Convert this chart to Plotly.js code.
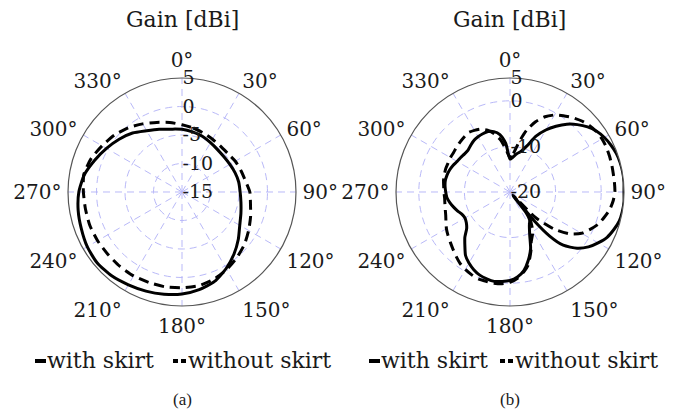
<!DOCTYPE html>
<html>
<head>
<meta charset="utf-8">
<script src="https://cdn.plot.ly/plotly-3.0.1.min.js"></script>
<style>
  html, body { margin: 0; padding: 0; background: #fff; }
  #chart { width: 678px; height: 411px; }
</style>
</head>
<body>
<div id="chart"></div>
<script>
// Azimuth angles (degrees, clockwise from 0° at top)
const thetaA = [0, 10, 20, 30, 40, 50, 60, 70, 80, 90, 100, 110, 120, 130, 140, 150, 160, 170,
  180, 190, 200, 210, 220, 230, 240, 250, 260, 270, 280, 290, 300, 310, 320, 330, 340, 350, 360];

// (a) gain in dBi
const gainAWithSkirt = [-4.0, -4.3, -4.6, -5.0, -5.3, -5.4, -5.3, -5.1, -4.9, -4.8, -4.5, -4.0, -3.3,
  -2.1, -0.8, 0.5, 1.7, 2.4, 2.9, 3.2, 3.5, 3.8, 4.2, 4.4, 4.2, 3.8, 3.5, 3.1, 2.4, 1.3, 0.3, -0.6,
  -1.5, -2.6, -3.3, -3.8, -4.0];
const gainAWithoutSkirt = [-3.2, -3.6, -4.0, -4.3, -4.5, -4.5, -4.2, -4.0, -3.7, -3.1, -2.8, -2.2,
  -1.5, -0.7, 0.0, 0.7, 1.3, 1.7, 1.8, 1.9, 1.9, 2.0, 2.0, 2.0, 2.1, 2.2, 2.2, 2.3, 2.5, 2.0, 1.2,
  0.5, -0.3, -1.2, -2.0, -2.6, -3.2];

// (b) gain in dBi
const thetaBWithSkirt = [0, 5, 10, 15, 20, 25, 30, 35, 40, 45, 50, 55, 60, 65, 70, 75, 80, 85, 90,
  95, 100, 105, 110, 115, 120, 125, 130, 135, 138, 140, 141, 142, 145, 150, 155, 160, 165, 170, 175,
  180, 185, 190, 195, 200, 205, 210, 215, 220, 225, 230, 235, 240, 245, 250, 255, 260, 265, 270, 275,
  280, 285, 290, 295, 300, 305, 310, 315, 320, 325, 330, 335, 340, 345, 350, 355, 360];
const gainBWithSkirt = [-12.8, -12.3, -11.5, -10.8, -9.3, -6.5, -4.3, -2.4, -0.6, 0.9, 2.2, 3.2, 3.9,
  4.4, 4.8, 5.0, 5.1, 5.1, 5.0, 5.1, 5.0, 4.8, 4.2, 3.5, 2.3, 1.0, -0.8, -3.5, -7.0, -12.0, -19.0,
  -14.5, -12.5, -11.5, -9.8, -6.8, -4.5, -2.5, -1.3, -0.6, -0.3, -0.1, -0.3, -0.6, -1.2, -2.0, -3.0,
  -4.6, -6.0, -7.6, -8.3, -8.6, -8.4, -7.8, -7.2, -6.6, -6.1, -5.9, -5.7, -5.6, -5.7, -5.9, -6.2,
  -6.6, -6.8, -7.0, -7.0, -6.6, -6.2, -6.0, -5.9, -5.9, -6.3, -7.2, -9.3, -12.8];

const thetaBWithoutSkirt = [0, 5, 10, 15, 20, 25, 30, 35, 40, 45, 50, 55, 60, 65, 70, 75, 80, 85, 90,
  95, 100, 105, 110, 115, 120, 125, 130, 135, 138, 140, 143, 150, 157, 160, 166, 170, 175, 180, 185,
  190, 195, 200, 205, 210, 215, 220, 225, 230, 235, 240, 245, 250, 255, 260, 265, 270, 275, 280, 285,
  290, 295, 300, 305, 310, 315, 320, 325, 330, 335, 340, 345, 350, 355, 360];
const gainBWithoutSkirt = [-12.5, -11.5, -9.0, -6.0, -3.6, -1.8, -0.5, 0.4, 1.3, 2.1, 2.7, 3.1, 3.3,
  3.3, 3.2, 3.1, 3.0, 3.0, 3.0, 2.7, 2.2, 1.4, 0.6, -0.6, -1.9, -4.0, -7.3, -12.0, -19.0, -15.0,
  -12.8, -10.0, -8.1, -6.5, -3.5, -2.3, -1.0, -0.2, 0.2, 0.3, 0.3, 0.3, 0.0, -0.4, -0.9, -1.6, -2.3,
  -2.9, -3.4, -3.9, -4.5, -5.0, -5.3, -5.5, -5.6, -5.5, -5.4, -5.2, -5.1, -5.0, -5.0, -4.9, -4.9,
  -4.7, -4.5, -4.3, -4.1, -4.4, -4.8, -5.6, -6.8, -8.5, -10.8, -12.5];

// Angular tick marks and radial tick labels
const angleTicks = [0, 30, 60, 90, 120, 150, 180, 210, 240, 270, 300, 330];
const radialTicksA = [-15, -10, -5, 0, 5];
const radialTicksB = [-20, -10, 0, 5];
const seriesNames = ['with skirt', 'without skirt'];
const panelTitle = 'Gain [dBi]';
const panelCaptions = ['(a)', '(b)'];

const SERIF = 'DejaVu Serif, serif';
const CAPTION = 'Liberation Serif, Times New Roman, serif';
const INK = '#1a1a1a';
const GRID = 'rgb(185,185,248)';

function lineTrace(theta, r, subplot, dash, name) {
  return {
    type: 'scatterpolar', mode: 'lines', theta: theta, r: r, subplot: subplot, name: name,
    line: { color: '#000', width: 3, dash: dash, shape: 'spline', smoothing: 0.6 },
    showlegend: false, hoverinfo: 'skip'
  };
}

const data = [
  lineTrace(thetaA, gainAWithSkirt, 'polar', 'solid', seriesNames[0]),
  lineTrace(thetaA, gainAWithoutSkirt, 'polar', '10px,6px', seriesNames[1]),
  lineTrace(thetaBWithSkirt, gainBWithSkirt, 'polar2', 'solid', seriesNames[0]),
  lineTrace(thetaBWithoutSkirt, gainBWithoutSkirt, 'polar2', '10px,6px', seriesNames[1])
];

function polarLayout(xDomain, range, ticks) {
  return {
    domain: { x: xDomain, y: [0.2555, 0.8102] },
    bgcolor: 'rgba(0,0,0,0)',
    angularaxis: {
      rotation: 90, direction: 'clockwise',
      tickmode: 'array', tickvals: angleTicks, ticktext: angleTicks.map(a => a + '°'),
      tickfont: { family: SERIF, size: 20, color: INK },
      ticks: 'outside', ticklen: 2, tickcolor: 'rgba(0,0,0,0)',
      showline: true, linecolor: '#555', linewidth: 1.2,
      showgrid: true, gridcolor: GRID, gridwidth: 1, griddash: '7px,5px'
    },
    radialaxis: {
      range: range, angle: 90, side: 'clockwise', tickangle: 90,
      tickmode: 'array', tickvals: ticks, ticktext: ticks.map(String),
      tickfont: { family: SERIF, size: 19, color: INK },
      ticks: '', showline: false,
      showgrid: true, gridcolor: GRID, gridwidth: 1, griddash: '7px,5px'
    }
  };
}

// Panel centres and legend-row anchor points (pixels)
const centersX = [182, 510];
const legendStart = [35, 369];
const legendDashStart = [173, 500];
const annotations = [];
const shapes = [];
const legendY = 361;
const captionY = 399;
const px = x => x / 678;
const py = y => 1 - y / 411;

centersX.forEach((cx, i) => {
  annotations.push({
    xref: 'paper', yref: 'paper', x: px(cx), y: py(19), xanchor: 'center', yanchor: 'middle',
    text: panelTitle, showarrow: false, font: { family: SERIF, size: 22, color: INK }
  });
  annotations.push({
    xref: 'paper', yref: 'paper', x: px(cx), y: py(captionY), xanchor: 'center', yanchor: 'middle',
    text: panelCaptions[i], showarrow: false, font: { family: CAPTION, size: 17, color: INK }
  });
  // legend row: short solid mark, label, short dashed mark, label
  const x0 = legendStart[i];
  shapes.push({ type: 'line', xref: 'paper', yref: 'paper',
    x0: px(x0), x1: px(x0 + 11), y0: py(legendY), y1: py(legendY),
    line: { color: '#000', width: 4 } });
  annotations.push({
    xref: 'paper', yref: 'paper', x: px(x0 + 10), y: py(legendY - 1), xanchor: 'left', yanchor: 'middle',
    text: seriesNames[0], showarrow: false, font: { family: SERIF, size: 22, color: INK }
  });
  const x1 = legendDashStart[i];
  [0, 8].forEach(off => shapes.push({ type: 'line', xref: 'paper', yref: 'paper',
    x0: px(x1 + off), x1: px(x1 + off + 5), y0: py(legendY), y1: py(legendY),
    line: { color: '#000', width: 4 } }));
  annotations.push({
    xref: 'paper', yref: 'paper', x: px(x1 + 13), y: py(legendY - 1), xanchor: 'left', yanchor: 'middle',
    text: seriesNames[1], showarrow: false, font: { family: SERIF, size: 22, color: INK }
  });
});

const layout = {
  width: 678, height: 411,
  margin: { l: 0, r: 0, t: 0, b: 0 },
  paper_bgcolor: '#fff',
  showlegend: false,
  polar: polarLayout([68 / 678, 296 / 678], [-15, 5], radialTicksA),
  polar2: polarLayout([396 / 678, 624 / 678], [-20, 5], radialTicksB),
  annotations: annotations,
  shapes: shapes
};

Plotly.newPlot('chart', data, layout, { displayModeBar: false, staticPlot: true });
</script>
</body>
</html>
